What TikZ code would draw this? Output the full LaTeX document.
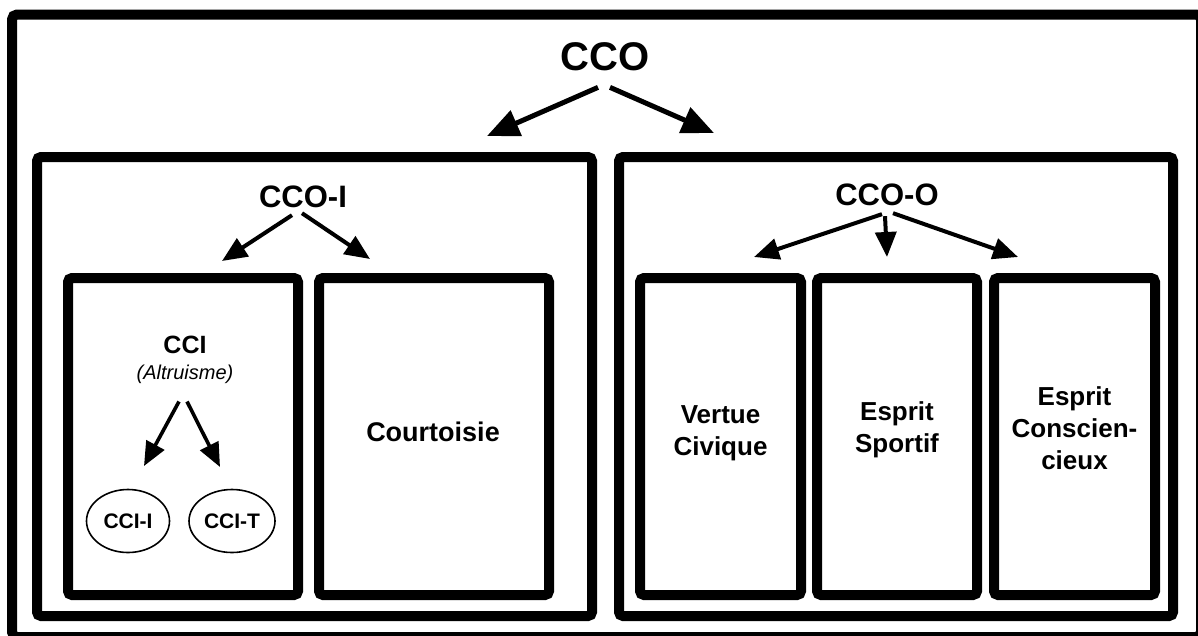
\documentclass[tikz,border=0pt]{standalone}
\usepackage{fontspec}
\setmainfont{Liberation Sans}
\usetikzlibrary{arrows.meta,calc,shapes.geometric}

\begin{document}
\begin{tikzpicture}[x=1pt,y=-1pt,
  frame/.style={draw=black, line width=10pt, rounded corners=5pt},
  panel/.style={draw=black, line width=10pt, rounded corners=4pt, rectangle, inner sep=0pt, outer sep=0pt},
  title/.style={font=\fontsize{40}{48}\selectfont\bfseries, inner sep=0pt},
  subtitle/.style={font=\fontsize{31}{37}\selectfont\bfseries, inner sep=0pt},
  label/.style={font=\fontsize{26}{32}\selectfont\bfseries, align=center, inner sep=0pt},
  bubble/.style={ellipse, draw=black, line width=1.6pt, inner sep=0pt,
    minimum height=63pt, font=\fontsize{21}{25}\selectfont\bfseries},
  bigarrow/.style={-{Triangle[length=32pt,width=27pt]}, line width=5pt},
  midarrow/.style={-{Triangle[length=25pt,width=21pt]}, line width=4pt},
  smallarrow/.style={-{Triangle[length=24pt,width=20pt]}, line width=3.6pt}]

\useasboundingbox (0,0) rectangle (1198,635);
\fill[white] (0,0) rectangle (1198,635);

% outer frame
\draw[frame] (12,14.5) rectangle (1201,637);

% two main panels
\node[panel, minimum width=555pt, minimum height=459pt] (pin) at (314.5,386.5) {};
\node[panel, minimum width=554pt, minimum height=459pt] (pout) at (896,386.5) {};

% inner panels
\node[panel, minimum width=230pt, minimum height=317pt] (bcci) at (183,436.5) {};
\node[panel, minimum width=230pt, minimum height=317pt] (bcourt) at (434,436.5) {};
\node[panel, minimum width=161pt, minimum height=317pt] (bvert) at (720.5,436.5) {};
\node[panel, minimum width=160pt, minimum height=317pt] (bsport) at (897,436.5) {};
\node[panel, minimum width=161pt, minimum height=317pt] (bcons) at (1074.5,436.5) {};

% titles
\node[title] (cco) at (605,57) {CCO};
\node[subtitle] (ccoi) at (303,197) {CCO-I};
\node[subtitle] (ccoo) at (887,195) {CCO-O};

% labels
\node[font=\fontsize{25}{30}\selectfont\bfseries, inner sep=0pt] (cci) at (185,345) {CCI};
\node[font=\fontsize{20}{24}\selectfont\itshape, inner sep=0pt] (altr) at (185,374) {(Altruisme)};
\node[font=\fontsize{27}{32}\selectfont\bfseries, inner sep=0pt] (court) at (433,432) {Courtoisie};
\node[label] (vert) at (720.5,433) {Vertue\\Civique};
\node[label] (sport) at (897,430) {Esprit\\Sportif};
\node[label] (cons) at (1074.5,428) {Esprit\\Conscien-\\cieux};

\node[bubble, minimum width=83pt] (ccii) at (128,521) {CCI-I};
\node[bubble, minimum width=86pt] (ccit) at (232,521) {CCI-T};

% arrow end points
\coordinate (tin) at (487,136);
\coordinate (tout) at (714,133);
\coordinate (tcci) at (222,261);
\coordinate (tcourt) at (370,259);
\coordinate (tvert) at (754,257);
\coordinate (tsport) at (887,257);
\coordinate (tcons) at (1018,257);
\coordinate (tcii) at (144,466);
\coordinate (tcit) at (220,467);

% arrows
\draw[bigarrow] ($(cco.south)+(-7,16)$) -- (tin);
\draw[bigarrow] ($(cco.south)+(5,16)$) -- (tout);
\draw[midarrow] ($(ccoi.south)+(-11,7)$) -- (tcci);
\draw[midarrow] ($(ccoi.south)+(-1,5)$) -- (tcourt);
\draw[midarrow] ($(ccoo.south)+(-5,8)$) -- (tvert);
\draw[midarrow] ($(ccoo.south)+(-2,10)$) -- (tsport);
\draw[midarrow] ($(ccoo.south)+(6,7)$) -- (tcons);
\draw[smallarrow] ($(altr.south)+(-6,18)$) -- (tcii);
\draw[smallarrow] ($(altr.south)+(2,18)$) -- (tcit);
\end{tikzpicture}
\end{document}
